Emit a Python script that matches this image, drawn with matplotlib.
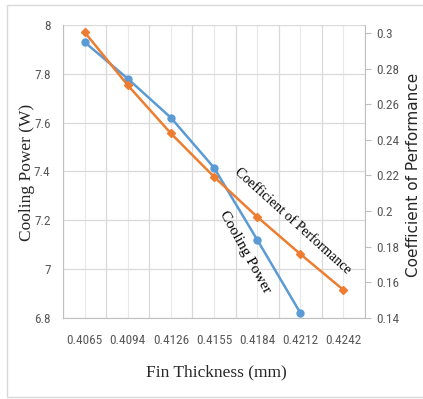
import matplotlib.pyplot as plt
from matplotlib.patches import Rectangle
from matplotlib.ticker import FixedLocator
from matplotlib import font_manager

# data
thickness = ["0.4065", "0.4094", "0.4126", "0.4155", "0.4184", "0.4212", "0.4242"]
cooling_power = [7.93, 7.78, 7.62, 7.415, 7.12, 6.82]
cop = [0.3005, 0.2707, 0.2436, 0.2192, 0.1967, 0.1758, 0.1556]

power_ticks = [6.8, 7.0, 7.2, 7.4, 7.6, 7.8, 8.0]
power_tick_labels = ["6.8", "7", "7.2", "7.4", "7.6", "7.8", "8"]
cop_ticks = [0.14, 0.16, 0.18, 0.2, 0.22, 0.24, 0.26, 0.28, 0.3]
cop_tick_labels = ["0.14", "0.16", "0.18", "0.2", "0.22", "0.24", "0.26", "0.28", "0.3"]

BLUE = "#5B9BD5"
ORANGE = "#ED7D31"
GRID = "#D9D9D9"
TICK_TXT = "#595959"
SERIF = ["Liberation Serif", "DejaVu Serif"]

# narrow face for tick labels, if one is installed
installed = {f.name for f in font_manager.fontManager.ttflist}
narrow = [n for n in ("Liberation Sans Narrow", "Roboto Condensed", "DejaVu Sans Condensed",
                      "Open Sans Condensed") if n in installed]
if narrow:
    TICK_FONT = dict(fontfamily=narrow[0], fontsize=9.5)
else:
    TICK_FONT = dict(fontfamily="Roboto", fontsize=8.5, fontstretch="condensed")

fig = plt.figure(figsize=(4.23, 3.99), dpi=100)
fig.patches.append(Rectangle((7 / 423, 2 / 399), 1.2, 392 / 399, transform=fig.transFigure,
                             fill=False, edgecolor="#D9D9D9", linewidth=1.0))

ax = fig.add_axes([63 / 423, 1 - 317.7 / 399, (365 - 63) / 423, (317.7 - 25) / 399])
ax2 = ax.twinx()

xs = list(range(len(thickness)))
ax.set_xlim(-0.5, len(thickness) - 0.5)
ax.set_ylim(6.8, 8.0)
ax2.set_ylim(0.14, 0.3045)

# grid: category edges and centres
for i in range(len(thickness) + 1):
    ax.axvline(i - 0.5, color=GRID, lw=0.9, zorder=0)
for i in xs:
    ax.axvline(i, color="#E8E8E8", lw=0.8, zorder=0)
for t in power_ticks:
    ax.axhline(t, color=GRID, lw=0.9, zorder=0)

ax.plot(xs[:len(cooling_power)], cooling_power, color=BLUE, lw=1.8, marker="o",
        markersize=5, zorder=3)
ax2.plot(xs, cop, color=ORANGE, lw=1.8, marker="D", markersize=4.5, zorder=3)

ax.set_xticks(xs)
ax.set_xticklabels(thickness, color=TICK_TXT, **TICK_FONT)
ax.yaxis.set_major_locator(FixedLocator(power_ticks))
ax.set_yticklabels(power_tick_labels, color=TICK_TXT, **TICK_FONT)
ax.tick_params(axis="x", length=0, pad=12)
ax.tick_params(axis="y", length=0, pad=9)

ax2.yaxis.set_major_locator(FixedLocator(cop_ticks))
ax2.set_yticklabels(cop_tick_labels, color=TICK_TXT, **TICK_FONT)
ax2.tick_params(axis="y", length=4, width=0.8, color="#BFBFBF", pad=4)

for a in (ax, ax2):
    for s in a.spines.values():
        s.set_visible(False)
ax.spines["bottom"].set_visible(True)
ax.spines["bottom"].set_color("#BFBFBF")
ax.spines["left"].set_visible(True)
ax.spines["left"].set_color("#BFBFBF")
ax2.spines["right"].set_visible(True)
ax2.spines["right"].set_color("#BFBFBF")

fig.text(27 / 423, 1 - 172 / 399, "Cooling Power (W)", rotation=90, ha="center",
         va="center", fontfamily=SERIF, fontsize=12.5, color="#262626")
fig.text(413 / 423, 1 - 175 / 399, "Coefficient of Performance", rotation=90, ha="center",
         va="center", fontfamily="DejaVu Sans", fontsize=11, color="#262626")
fig.text(216 / 423, 1 - 372 / 399, "Fin Thickness (mm)", ha="center", va="center",
         fontfamily=SERIF, fontsize=12.5, color="#262626")

# in-plot series labels
fig.text(293 / 423, 1 - 221 / 399, "Coefficient of Performance", rotation=-42,
         rotation_mode="anchor", ha="center", va="center", fontfamily=SERIF,
         fontsize=10, color="black")
fig.text(245 / 423, 1 - 252 / 399, "Cooling Power", rotation=-61,
         rotation_mode="anchor", ha="center", va="center", fontfamily=SERIF,
         fontsize=11, color="black")

fig.savefig("out.png", dpi=100)
